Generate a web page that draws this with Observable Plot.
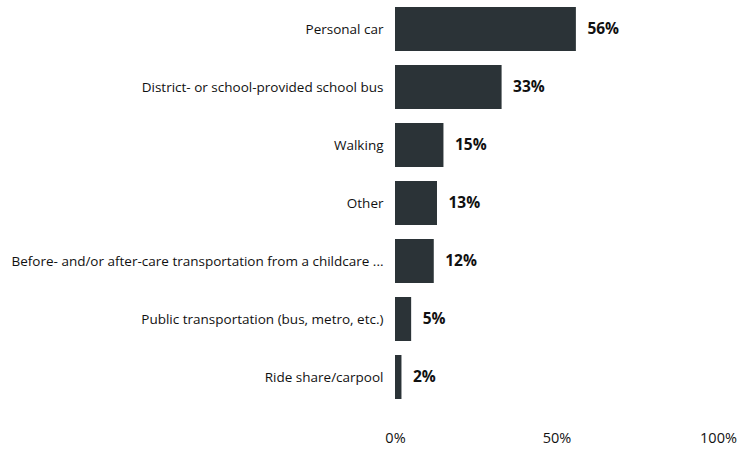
<!DOCTYPE html>
<html>
<head>
<meta charset="utf-8">
<script src="https://cdn.jsdelivr.net/npm/d3@7"></script>
<script src="https://cdn.jsdelivr.net/npm/@observablehq/plot@0.6"></script>
<style>
html,body{margin:0;padding:0;background:#fff;}
svg{display:block;}
</style>
</head>
<body>
<div id="chart"></div>
<script>
const categories = [
  "Personal car",
  "District- or school-provided school bus",
  "Walking",
  "Other",
  "Before- and/or after-care transportation from a childcare ...",
  "Public transportation (bus, metro, etc.)",
  "Ride share/carpool"
];
const values = [56, 33, 15, 13, 12, 5, 2];
const xTicks = [0, 50, 100];

const data = categories.map((c, i) => ({category: c, value: values[i]}));

const chart = Plot.plot({
  width: 740,
  height: 449,
  marginLeft: 395,
  marginRight: 22,
  marginTop: 0,
  marginBottom: 44,
  style: {fontFamily: "'Open Sans', sans-serif", background: "#fff", color: "#111"},
  x: {domain: [0, 100], ticks: xTicks, tickFormat: d => d + "%", label: null},
  y: {domain: categories, paddingInner: 0.244, paddingOuter: 0.1, label: null},
  marks: [
    Plot.barX(data, {x: "value", y: "category", fill: "#2b3337"}),
    Plot.text(data, {x: "value", y: "category", text: d => d.value + "%", textAnchor: "start", dx: 11, fontWeight: "bold", fontSize: 15.5, fill: "#111"}),
    Plot.axisY({tickSize: 0, tickPadding: 12, fontSize: 13.5, label: null}),
    Plot.axisX({ticks: xTicks, tickFormat: d => d + "%", tickSize: 0, tickPadding: 27, fontSize: 14.5, label: null})
  ]
});
document.getElementById("chart").appendChild(chart);
</script>
</body>
</html>
